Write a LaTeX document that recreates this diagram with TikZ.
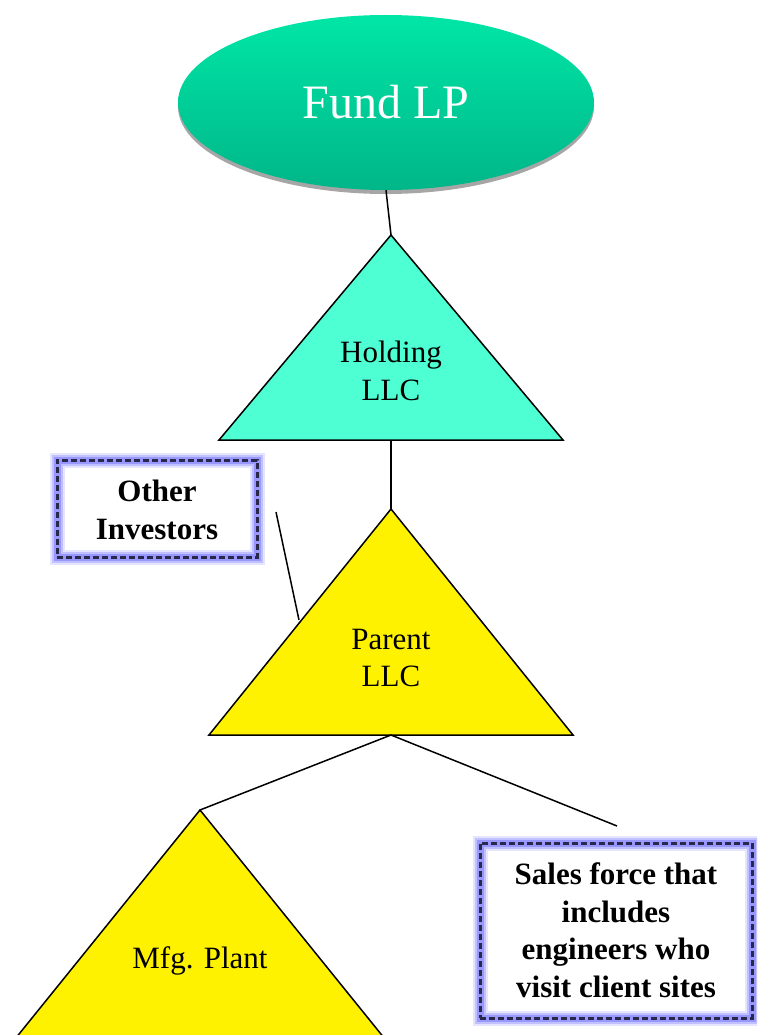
\documentclass[tikz,border=0pt]{standalone}
\usepackage{fontspec}
\setmainfont{Liberation Serif}
\usetikzlibrary{shapes.geometric,shadows}

\definecolor{fundtop}{RGB}{0,230,166}
\definecolor{fundbot}{RGB}{0,182,137}
\definecolor{holdfill}{RGB}{77,255,210}
\definecolor{glowcol}{RGB}{125,125,255}
\definecolor{dashcol}{RGB}{40,40,75}

\tikzset{
  lbl/.style={align=center,inner sep=0pt,font=\fontsize{31}{37.5}\selectfont},
  boldlbl/.style={align=center,inner sep=0pt,font=\fontsize{31}{37.5}\selectfont\bfseries},
  tri/.style={draw=black,line width=1.5pt,line join=miter},
  wire/.style={draw=black,line width=1.5pt},
  glowbox/.style={inner sep=0pt,
    preaction={fill=white},
    preaction={draw=glowcol,solid,line width=15pt,opacity=.2},
    preaction={draw=glowcol,solid,line width=11pt,opacity=.35},
    preaction={draw=glowcol,solid,line width=7pt,opacity=.6},
    draw=dashcol,line width=3pt,dash pattern=on 6pt off 3pt},
}

\begin{document}
\begin{tikzpicture}[x=1pt,y=-1pt]
  \clip (0,0) rectangle (757,1035);
%%
  % Node: Fund LP
  \node (fund) [ellipse,minimum width=416pt,minimum height=175pt,inner sep=0pt,
    top color=fundtop,bottom color=fundbot,
    drop shadow={shadow xshift=0pt,shadow yshift=-4pt,fill=gray!70,opacity=1},
    text=white,font=\fontsize{48}{56}\selectfont] at (386,102.5) {Fund LP};
  % Node: Holding LLC
  \coordinate (holdtop) at (391,235);
  \coordinate (holdbot) at (391,440);
  \filldraw [tri,fill=holdfill] (holdtop) -- (219,440) -- (563,440) -- cycle;
  \node (holding) [lbl] at (391,371) {Holding\\LLC};
  % Node: Parent LLC
  \coordinate (partop) at (391,509);
  \coordinate (parbot) at (391,735);
  \filldraw [tri,fill=yellow] (partop) -- (209,735) -- (573,735) -- cycle;
  \node (parent) [lbl] at (391,658) {Parent\\LLC};
  % Node: Mfg. Plant
  \coordinate (mfgtop) at (200,810);
  \filldraw [tri,fill=yellow] (mfgtop) -- (-10,1070) -- (410,1070) -- cycle;
  \node (mfg) [lbl] at (200,961) {Mfg. Plant};
  % Node: Other Investors
  \node (other) [glowbox,minimum width=200pt,minimum height=97pt] at (157,508.5) {};
  \node (othertxt) [boldlbl] at (157,510) {Other\\Investors};
  % Node: Sales force
  \node (sales) [glowbox,minimum width=272pt,minimum height=175pt] at (616,930.5) {};
  \node (salestxt) [boldlbl] at (616,930) {Sales force that\\includes\\engineers who\\visit client sites};
%
  % Edge: fund -- holding
  \draw [wire] (fund.south) -- (holdtop);
  % Edge: holding -- parent
  \draw [wire] (holdbot) -- (partop);
  % Edge: other -- parent
  \coordinate (othertip) at (276,512);
  \coordinate (parside) at (299,620);
  \draw [wire] (othertip) -- (parside);
  % Edge: parent -- mfg
  \draw [wire] (parbot) -- (mfgtop);
  % Edge: parent -- sales
  \coordinate (salestip) at (617,826);
  \draw [wire] (parbot) -- (salestip);
\end{tikzpicture}
\end{document}
